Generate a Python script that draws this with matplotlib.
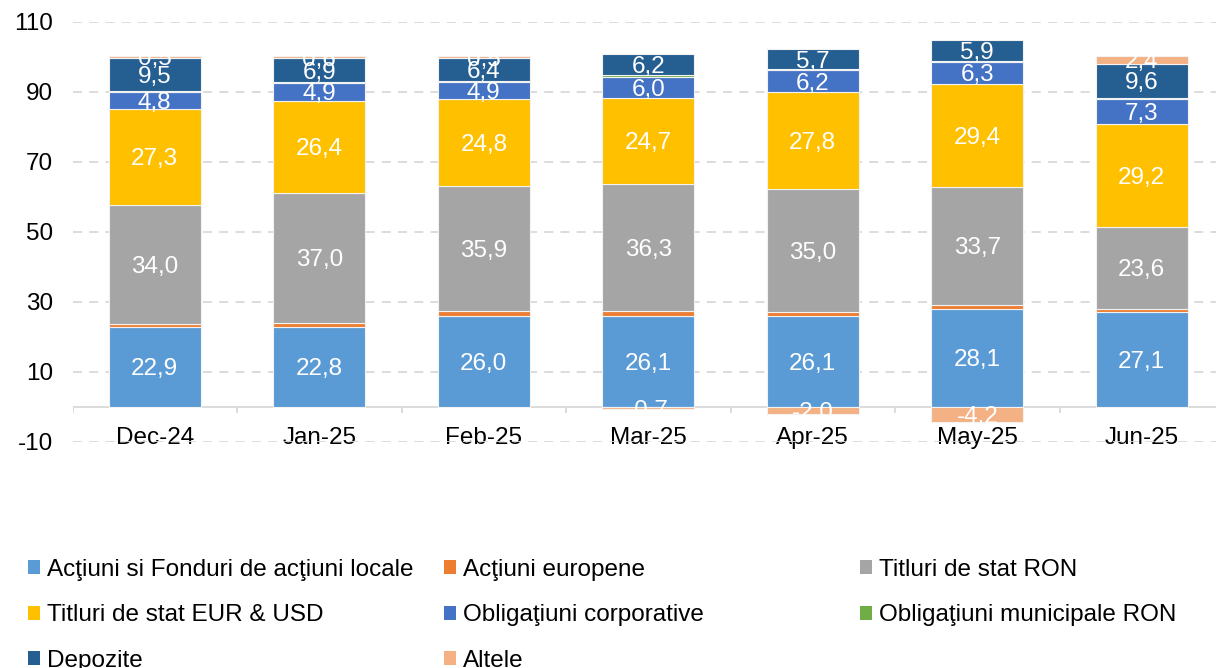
import numpy as np
from matplotlib import pyplot as plt
from matplotlib.patches import Patch

plt.rcParams['font.family'] = ['Liberation Sans', 'DejaVu Sans']
plt.rcParams['axes.unicode_minus'] = False

months = ["Dec-24", "Jan-25", "Feb-25", "Mar-25", "Apr-25", "May-25", "Jun-25"]

actiuni_locale = [22.9, 22.8, 26.0, 26.1, 26.1, 28.1, 27.1]
actiuni_europene = [0.9, 1.3, 1.3, 1.2, 1.0, 1.0, 0.8]
titluri_ron = [34.0, 37.0, 35.9, 36.3, 35.0, 33.7, 23.6]
titluri_eur_usd = [27.3, 26.4, 24.8, 24.7, 27.8, 29.4, 29.2]
oblig_corporative = [4.8, 4.9, 4.9, 6.0, 6.2, 6.3, 7.3]
oblig_municipale = [0.3, 0.3, 0.3, 0.4, 0.3, 0.3, 0.3]
depozite = [9.5, 6.9, 6.4, 6.2, 5.7, 5.9, 9.6]
altele = [0.5, 0.6, 0.5, -0.7, -2.0, -4.2, 2.4]

# (name, values, colour, show labels)
series = [
    ("Acţiuni si Fonduri de acţiuni locale", actiuni_locale, "#5B9BD5", True),
    ("Acţiuni europene", actiuni_europene, "#ED7D31", False),
    ("Titluri de stat RON", titluri_ron, "#A5A5A5", True),
    ("Titluri de stat EUR & USD", titluri_eur_usd, "#FFC000", True),
    ("Obligaţiuni corporative", oblig_corporative, "#4472C4", True),
    ("Obligaţiuni municipale RON", oblig_municipale, "#70AD47", False),
    ("Depozite", depozite, "#255E91", True),
    ("Altele", altele, "#F4B183", True),
]

FS = 17.5
W, H = 1216, 668
fig = plt.figure(figsize=(W / 100, H / 100), dpi=100)
ax = fig.add_axes([72.5 / W, 1 - 442 / H, 1151.5 / W, 420.3 / H])

x = np.arange(len(months))
pos = np.zeros(len(months))
neg = np.zeros(len(months))

for name, vals, col, lab in series:
    vals = np.array(vals)
    bottom = np.where(vals >= 0, pos, neg)
    ax.bar(x, vals, 0.56, bottom=bottom, color=col, edgecolor="#F2F2F2",
           linewidth=0.8, zorder=3)
    if lab:
        for xi, b, v in zip(x, bottom, vals):
            ax.text(xi, b + v / 2 - 0.7, f"{v:.1f}".replace(".", ","),
                    ha="center", va="center", color="white", fontsize=FS,
                    zorder=4)
    pos = pos + np.where(vals >= 0, vals, 0)
    neg = neg + np.where(vals < 0, vals, 0)

ax.set_xlim(-0.5, len(months) - 0.5)
ax.set_ylim(-10, 110)
ax.set_yticks(np.arange(-10, 111, 20))
ax.yaxis.grid(True, color="#D9D9D9", linestyle=(0, (5, 4)), linewidth=1.3)
ax.set_axisbelow(True)
for s in ax.spines.values():
    s.set_visible(False)

# category axis at zero with tick marks between categories
ax.axhline(0, color="#D9D9D9", linewidth=1.3, zorder=2)
ax.vlines(np.arange(-0.5, len(months)), -1.8, 0, color="#D9D9D9",
          linewidth=1.3, zorder=2)

ax.set_xticks(x, months)
ax.tick_params(axis="x", length=0, pad=-10.5, labelsize=FS)
ax.tick_params(axis="y", length=0, pad=14, labelsize=FS)

handles = [Patch(facecolor=c) for _, _, c, _ in series]
names = [n for n, _, _, _ in series]
col_x = [28, 444, 860]
for c in range(3):
    idx = list(range(c, len(series), 3))
    fig.legend([handles[i] for i in idx], [names[i] for i in idx],
               loc="upper left", bbox_to_anchor=(col_x[c] / W, 1 - 559 / H),
               frameon=False, fontsize=FS, borderpad=0, borderaxespad=0,
               handlelength=0.5, handleheight=0.5, handletextpad=0.3,
               labelspacing=0.96)

fig.savefig("out.png", dpi=100)
